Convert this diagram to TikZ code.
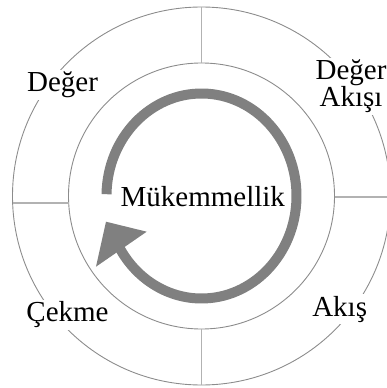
\documentclass[tikz,border=0pt]{standalone}
\usepackage{fontspec}
\setmainfont{Liberation Serif}

\begin{document}
\begin{tikzpicture}[x=1pt, y=1pt,
	ring/.style={draw=black!45, line width=0.9pt},
	divider/.style={draw=black!30, line width=1.6pt},
	lbl/.style={fill=white, inner sep=2pt, font=\fontsize{29}{27}\selectfont},
	cycle arrow/.style={draw=gray, line width=10pt}]
	\useasboundingbox (-201.5,-192) rectangle (185.5,196);
	% two rings and the four dividers between them
	\draw[ring] (0,0) circle[radius=189];
	\draw[ring] (0,0) circle[radius=133];
	\draw[divider] (0,133) -- (0,189);
	\draw[divider] (0,-133) -- (0,-189);
	\draw[divider] (-132.8,-7) -- (-188.9,-7);
	\draw[divider] (133,-1) -- (189,-1);
	% circular arrow
	\draw[cycle arrow] (179:95 and 102.5) arc[start angle=179, end angle=-149, x radius=95, y radius=102.5];
	\fill[gray] (-105.5,-70.7) -- (-95.5,-25.7) -- (-54.8,-35.7) -- cycle;
	\node[font=\fontsize{29}{27}\selectfont, anchor=base] (mukemmel) at (1.3,-10) {Mükemmellik};
	% labels sitting on the outer ring
	\node[lbl, anchor=base] (deger) at (-139,104.3) {Değer};
	\node[lbl, anchor=base, align=center] (akisi) at (149.5,89.3) {Değer\\Akışı};
	\node[lbl, anchor=base] (akis) at (138.2,-120) {Akış};
	\node[lbl, anchor=base] (cekme) at (-134,-125.7) {Çekme};
\end{tikzpicture}
\end{document}
